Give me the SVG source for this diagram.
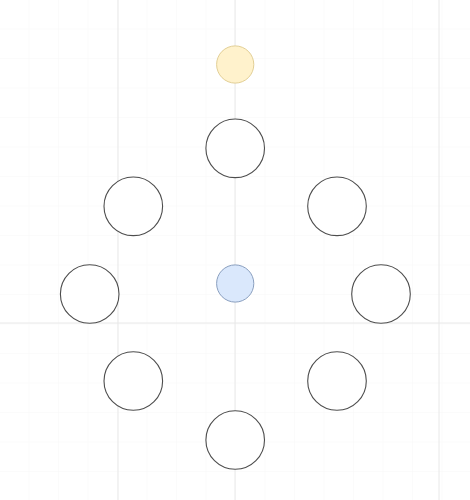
<svg xmlns="http://www.w3.org/2000/svg" width="470" height="500" viewBox="0 0 470 500">
<style>
.minor{stroke:#f7f7f7;stroke-width:1}
.major{stroke:#e8e8e8;stroke-width:1}
.node{fill:#ffffff;stroke:#4d4d4d;stroke-width:1.1}
.yellow{fill:#fff2cc;stroke:#e2cf95;stroke-width:1}
.blue{fill:#dae8fc;stroke:#8a9fbf;stroke-width:1}
</style>
<defs>
<pattern id="g" width="29.5" height="29.5" patternUnits="userSpaceOnUse" x="0" y="0">
<path d="M29.5 0V29.5M0 29.5H29.5" class="minor" fill="none"/>
</pattern>
</defs>
<rect width="470" height="500" fill="#ffffff"/>
<rect width="470" height="500" fill="url(#g)"/>
<g id="grid">
<line class="major" x1="118" y1="0" x2="118" y2="500"/>
<line class="major" x1="235" y1="0" x2="235" y2="500"/>
<line class="major" x1="439" y1="0" x2="439" y2="500"/>
<line class="major" x1="0" y1="323" x2="470" y2="323"/>
</g>
<g id="connectors"></g>
<g id="n-yellow"><circle class="yellow" cx="235.2" cy="64.5" r="18.6"/></g>
<g id="n-top"><circle class="node" cx="235.2" cy="148.3" r="29.3"/></g>
<g id="n-upper-left"><circle class="node" cx="133.3" cy="206.3" r="29.3"/></g>
<g id="n-upper-right"><circle class="node" cx="337" cy="206.3" r="29.3"/></g>
<g id="n-blue"><circle class="blue" cx="235.2" cy="283.5" r="18.6"/></g>
<g id="n-left"><circle class="node" cx="89.7" cy="294" r="29.3"/></g>
<g id="n-right"><circle class="node" cx="381" cy="294" r="29.3"/></g>
<g id="n-lower-left"><circle class="node" cx="133.3" cy="381" r="29.3"/></g>
<g id="n-lower-right"><circle class="node" cx="337" cy="381" r="29.3"/></g>
<g id="n-bottom"><circle class="node" cx="235.2" cy="440" r="29.3"/></g>
</svg>
